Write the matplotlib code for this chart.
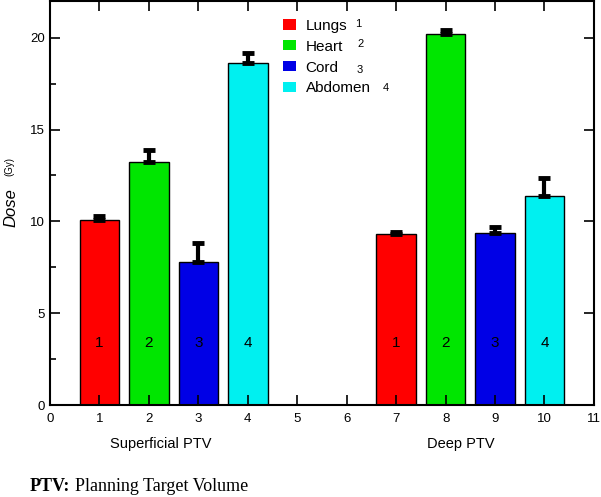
import numpy as np
import matplotlib
matplotlib.use('Agg')
import matplotlib.pyplot as plt
from matplotlib.patches import Patch
from matplotlib.ticker import MultipleLocator

organs = ['Lungs', 'Heart', 'Cord', 'Abdomen']
colors = ['#ff0000', '#00e600', '#0000e6', '#00f0f0']
superficial_x = [1, 2, 3, 4]
deep_x = [7, 8, 9, 10]
superficial_dose = [10.05, 13.25, 7.8, 18.65]
superficial_err = [0.25, 0.65, 1.0, 0.5]
deep_dose = [9.3, 20.2, 9.35, 11.4]
deep_err = [0.1, 0.2, 0.35, 0.95]

plt.rcParams['font.family'] = ['Liberation Sans', 'DejaVu Sans']

fig = plt.figure(figsize=(6.01, 4.97), dpi=100)
ax = fig.add_axes([0.0832, 0.185, 0.905, 0.813])

for xs, ys, es in [(superficial_x, superficial_dose, superficial_err),
                   (deep_x, deep_dose, deep_err)]:
    ax.bar(xs, ys, width=0.8, color=colors, edgecolor='black', linewidth=1)
    ax.errorbar(xs, ys, yerr=[np.zeros(len(es)), es], fmt='none',
                ecolor='black', elinewidth=3, capsize=4, capthick=3.5)
    for i, x in enumerate(xs):
        ax.text(x, 3.37, str(i + 1), ha='center', va='center', fontsize=11)

ax.set_xlim(0, 11)
ax.set_ylim(0, 22)
ax.set_xticks(range(12))
ax.yaxis.set_major_locator(MultipleLocator(5))
ax.yaxis.set_minor_locator(MultipleLocator(2.5))
ax.tick_params(axis='both', which='major', direction='in', length=7, width=1.2,
               top=True, right=True, labelsize=9.5)
ax.tick_params(axis='x', which='major', pad=6)
ax.tick_params(axis='y', which='minor', direction='in', length=4, width=1.2,
               right=False)
for s in ax.spines.values():
    s.set_linewidth(1.5)

ax.text(-0.072, 0.49, 'Dose', transform=ax.transAxes, rotation=90,
        ha='center', va='center', fontsize=12, style='italic')
ax.text(-0.075, 0.59, '(Gy)', transform=ax.transAxes, rotation=90,
        ha='center', va='center', fontsize=7)

ax.text(2.24, -2.1, 'Superficial PTV', ha='center', va='center', fontsize=10.5)
ax.text(8.31, -2.1, 'Deep PTV', ha='center', va='center', fontsize=10.5)

handles = [Patch(facecolor=c, edgecolor='none') for c in colors]
leg = ax.legend(handles, organs, loc='upper left', bbox_to_anchor=(0.428, 0.956),
                frameon=False, fontsize=11, handlelength=0.85, handleheight=0.65,
                handletextpad=0.65, labelspacing=0.45, borderpad=0,
                borderaxespad=0)
nums = ['1', '2', '3', '4']
nums_x = [6.17, 6.21, 6.19, 6.73]
nums_y = [20.76, 19.67, 18.26, 17.28]
for n, tx, ty in zip(nums, nums_x, nums_y):
    ax.text(tx, ty, n, fontsize=8, ha='left', va='center')

fig.text(0.05, 0.022, 'PTV:', fontsize=13, fontweight='bold',
         family='Liberation Serif', ha='left', va='center')
fig.text(0.124, 0.022, 'Planning Target Volume', fontsize=13,
         family='Liberation Serif', ha='left', va='center')

fig.savefig('out.png', dpi=100)
